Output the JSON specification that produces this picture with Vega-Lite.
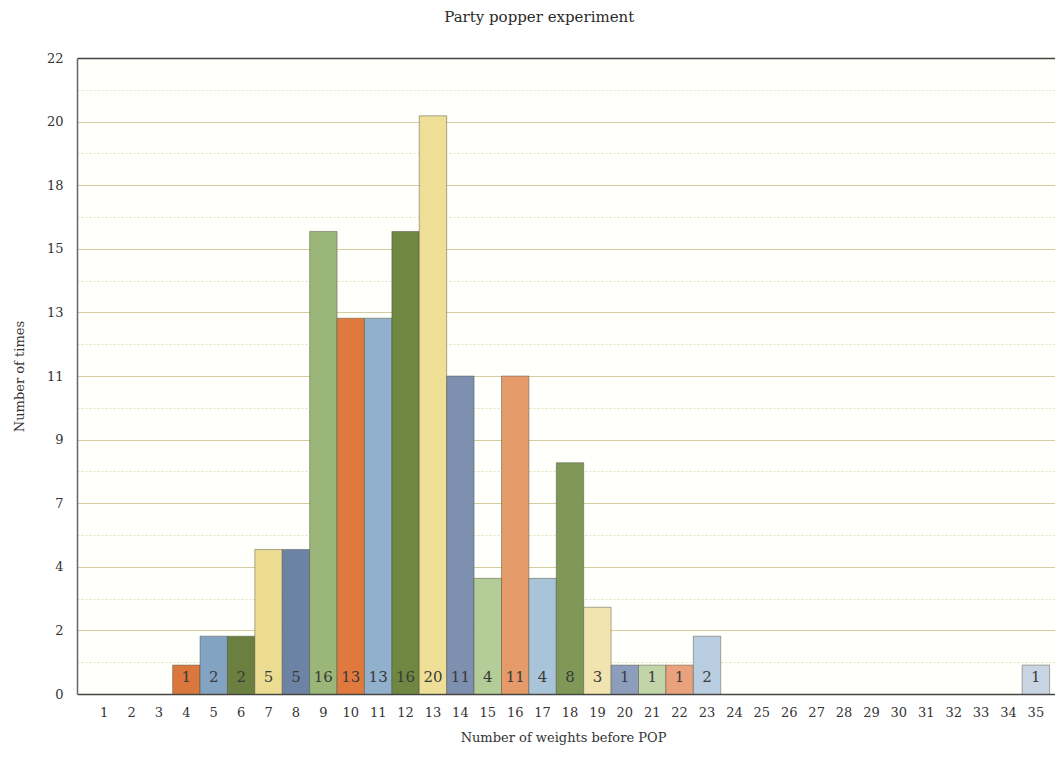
{
  "$schema": "https://vega.github.io/schema/vega-lite/v6.json",
  "width": 986,
  "height": 636,
  "autosize": "none",
  "padding": {"left": 77, "top": 58, "right": -8, "bottom": 72},
  "background": "white",
  "title": {"text": "Party popper experiment", "font": "DejaVu Serif", "fontSize": 15, "fontWeight": "normal", "color": "#2b2b2b", "anchor": "middle", "frame": "bounds", "offset": 27, "dx": 1},
  "config": {
    "view": {"stroke": null, "fill": "#fffffb"},
    "axis": {"labelFont": "DejaVu Serif", "titleFont": "DejaVu Serif", "labelColor": "#333333", "titleColor": "#333333", "titleFontWeight": "normal", "labelFontSize": 13, "titleFontSize": 13}
  },
  "data": {"values": [
    {"weights": 4, "times": 1}, {"weights": 5, "times": 2}, {"weights": 6, "times": 2},
    {"weights": 7, "times": 5}, {"weights": 8, "times": 5}, {"weights": 9, "times": 16},
    {"weights": 10, "times": 13}, {"weights": 11, "times": 13}, {"weights": 12, "times": 16},
    {"weights": 13, "times": 20}, {"weights": 14, "times": 11}, {"weights": 15, "times": 4},
    {"weights": 16, "times": 11}, {"weights": 17, "times": 4}, {"weights": 18, "times": 8},
    {"weights": 19, "times": 3}, {"weights": 20, "times": 1}, {"weights": 21, "times": 1},
    {"weights": 22, "times": 1}, {"weights": 23, "times": 2}, {"weights": 35, "times": 1}
  ]},
  "layer": [
    {
      "mark": {"type": "bar", "stroke": "#4a4a3a", "strokeWidth": 1, "strokeOpacity": 0.45},
      "encoding": {
        "x": {"field": "weights", "type": "ordinal",
          "scale": {"domain": [1,2,3,4,5,6,7,8,9,10,11,12,13,14,15,16,17,18,19,20,21,22,23,24,25,26,27,28,29,30,31,32,33,34,35], "paddingInner": 0, "paddingOuter": 0.49},
          "axis": {"title": "Number of weights before POP", "labelAngle": 0, "ticks": false, "labelPadding": 12, "domain": false, "titlePadding": 12, "grid": false, "titleX": 486}},
        "y": {"field": "times", "type": "quantitative",
          "scale": {"domain": [0, 22], "nice": false, "zero": true},
          "axis": {"orient": "left", "values": [0, 2.2, 4.4, 6.6, 8.8, 11, 13.2, 15.4, 17.6, 19.8, 22], "format": ".0f", "title": "Number of times", "ticks": false, "labelPadding": 14, "domainColor": "#666666", "domainWidth": 1.5, "grid": true,
            "gridColor": {"condition": {"test": "datum.value === 0 || datum.value === 22", "value": "#444444"}, "value": "#d4cda2"},
            "gridWidth": {"condition": {"test": "datum.value === 0 || datum.value === 22", "value": 1.5}, "value": 1.2},
            "titlePadding": 20}},
        "color": {"field": "weights", "type": "ordinal",
          "scale": {"domain": [4,5,6,7,8,9,10,11,12,13,14,15,16,17,18,19,20,21,22,23,35],
            "range": ["#d9773c", "#82a3c2", "#6b8040", "#ecdc92", "#6d83a6", "#9ab678", "#e0793e", "#90b0cc", "#6f8740", "#efdf96", "#7e90b0", "#b4cc98", "#e59a6a", "#a9c4d8", "#7f9858", "#f1e4b0", "#8d9ebd", "#c2d5a8", "#eaa27e", "#b9cde0", "#c9d5e2"]},
          "legend": null}
      }
    },
    {
      "mark": {"type": "text", "font": "DejaVu Serif", "fontSize": 15, "color": "#3a3a3a", "baseline": "middle", "align": "center"},
      "encoding": {
        "x": {"field": "weights", "type": "ordinal", "axis": {"title": "Number of weights before POP"}},
        "y": {"datum": 0.6, "type": "quantitative",
          "axis": {"orient": "right", "values": [1.1, 3.3, 5.5, 7.7, 9.9, 12.1, 14.3, 16.5, 18.7, 20.9], "labels": false, "ticks": false, "domain": false, "title": null, "grid": true, "gridColor": "#e4dfc2", "gridDash": [2, 2], "gridWidth": 1}},
        "text": {"field": "times", "type": "quantitative"}
      }
    }
  ],
  "resolve": {"axis": {"y": "independent"}}
}
